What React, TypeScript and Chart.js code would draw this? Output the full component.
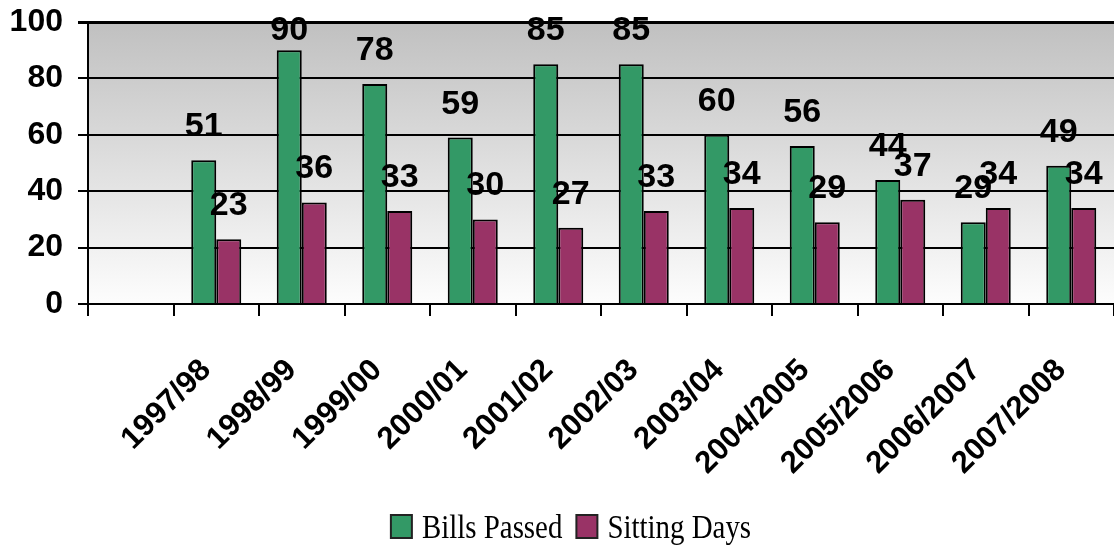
import React, { useEffect, useRef } from 'react';
import { Chart, registerables } from 'chart.js';

Chart.register(...registerables);

const categories = ['', '1997/98', '1998/99', '1999/00', '2000/01', '2001/02', '2002/03', '2003/04', '2004/2005', '2005/2006', '2006/2007', '2007/2008'];
const billsPassed = [null, 51, 90, 78, 59, 85, 85, 60, 56, 44, 29, 49];
const sittingDays = [null, 23, 36, 33, 30, 27, 33, 34, 29, 37, 34, 34];
const seriesNames = ['Bills Passed', 'Sitting Days'];
const seriesColors = ['#339966', '#993366'];
const yMin = 0;
const yMax = 100;
const yStep = 20;

const bgPlugin = {
  id: 'bgGradient',
  beforeDraw(chart: any) {
    const { ctx, chartArea } = chart;
    if (!chartArea) return;
    const g = ctx.createLinearGradient(0, chartArea.top, 0, chartArea.bottom);
    g.addColorStop(0, '#c0c0c0');
    g.addColorStop(1, '#fdfdfd');
    ctx.save();
    ctx.fillStyle = g;
    ctx.fillRect(chartArea.left, chartArea.top, chartArea.right - chartArea.left, chartArea.bottom - chartArea.top);
    ctx.restore();
  },
};

const labelPlugin = {
  id: 'valueLabels',
  afterDatasetsDraw(chart: any) {
    const { ctx } = chart;
    ctx.save();
    ctx.font = 'bold 34px "Liberation Sans", Arial, sans-serif';
    ctx.fillStyle = '#000';
    ctx.textAlign = 'center';
    ctx.textBaseline = 'alphabetic';
    chart.data.datasets.forEach((ds: any, di: number) => {
      const meta = chart.getDatasetMeta(di);
      meta.data.forEach((bar: any, i: number) => {
        const v = ds.data[i];
        if (v === null || v === undefined) return;
        const y = Math.max(bar.y - 24, 40);
        ctx.fillText(String(v), bar.x, y);
      });
    });
    ctx.restore();
  },
};

const legendPlugin = {
  id: 'customLegend',
  afterDraw(chart: any) {
    const { ctx } = chart;
    const sx = 0.85;
    const boxW = 21;
    const boxH = 23;
    const gapText = 10;
    const gapItem = 14;
    const centerX = 571;
    const baseY = 538;
    ctx.save();
    ctx.font = '34px "Liberation Serif", "Times New Roman", serif';
    const widths = chart.data.datasets.map((d: any) => ctx.measureText(d.label).width * sx);
    let total = 0;
    widths.forEach((w: number, i: number) => {
      total += boxW + gapText + w + (i < widths.length - 1 ? gapItem : 0);
    });
    let x = centerX - total / 2;
    chart.data.datasets.forEach((d: any, i: number) => {
      ctx.fillStyle = d.backgroundColor;
      ctx.fillRect(x, baseY - boxH, boxW, boxH);
      ctx.strokeStyle = '#222';
      ctx.lineWidth = 2;
      ctx.strokeRect(x, baseY - boxH, boxW, boxH);
      x += boxW + gapText;
      ctx.save();
      ctx.translate(x, baseY);
      ctx.scale(sx, 1);
      ctx.fillStyle = '#000';
      ctx.textAlign = 'left';
      ctx.textBaseline = 'alphabetic';
      ctx.fillText(d.label, 0, 0);
      ctx.restore();
      x += widths[i] + gapItem;
    });
    ctx.restore();
  },
};

const zeroPad = (s: any) => {
  s.paddingTop = 0;
  s.paddingBottom = 0;
  s.paddingLeft = 0;
  s.paddingRight = 0;
};

export default function App() {
  const ref = useRef<HTMLCanvasElement | null>(null);
  useEffect(() => {
    document.body.style.margin = '0';
    const canvas = ref.current;
    if (!canvas) return;
    const chart = new Chart(canvas, {
      type: 'bar',
      data: {
        labels: categories,
        datasets: [
          {
            label: seriesNames[0],
            data: billsPassed,
            backgroundColor: seriesColors[0],
            borderColor: '#000000',
            borderWidth: 2,
            categoryPercentage: 0.585,
            barPercentage: 1,
          },
          {
            label: seriesNames[1],
            data: sittingDays,
            backgroundColor: seriesColors[1],
            borderColor: '#000000',
            borderWidth: 2,
            categoryPercentage: 0.585,
            barPercentage: 1,
          },
        ],
      },
      options: {
        responsive: false,
        animation: false,
        layout: { padding: { top: 22, left: 0, right: 0, bottom: 0 } },
        plugins: {
          legend: { display: false },
          tooltip: { enabled: false },
        },
        scales: {
          x: {
            afterFit: (s: any) => { s.height = 245; zeroPad(s); },
            grid: {
              offset: true,
              drawOnChartArea: false,
              drawTicks: true,
              tickLength: 12,
              color: '#000',
              lineWidth: 2,
            },
            border: { color: '#000', width: 2 },
            ticks: {
              autoSkip: false,
              maxRotation: 45,
              minRotation: 45,
              padding: 36,
              labelOffset: -10,
              color: '#000',
              font: { family: '"Liberation Sans", Arial, sans-serif', size: 31, weight: 'bold' },
            },
          },
          y: {
            min: yMin,
            max: yMax,
            afterFit: (s: any) => { s.width = 88; zeroPad(s); },
            grid: {
              color: '#000',
              lineWidth: (c: any) => (c.tick && c.tick.value === yMax ? 3 : 2),
              tickLength: 10,
            },
            border: { color: '#000', width: 2 },
            ticks: {
              stepSize: yStep,
              padding: 15,
              color: '#000',
              font: { family: '"Liberation Sans", Arial, sans-serif', size: 32, weight: 'bold' },
            },
          },
        },
      },
      plugins: [bgPlugin, labelPlugin, legendPlugin],
    } as any);
    return () => chart.destroy();
  }, []);
  return (
    <div style={{ position: 'absolute', left: 0, top: 0, width: 1114, height: 549 }}>
      <canvas ref={ref} width={1114} height={549} />
    </div>
  );
}
